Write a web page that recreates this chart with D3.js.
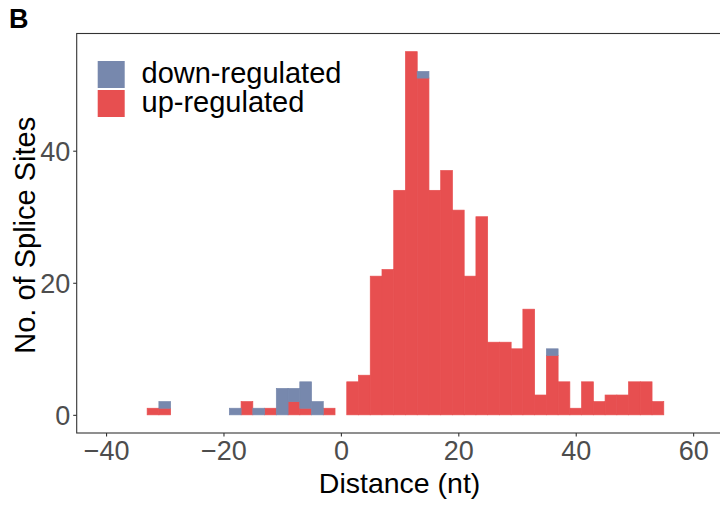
<!DOCTYPE html>
<html>
<head>
<meta charset="utf-8">
<script src="https://cdn.jsdelivr.net/npm/d3@7"></script>
<style>
  html, body { margin: 0; padding: 0; background: #fff; }
  svg { display: block; font-family: "Liberation Sans", Arial, Helvetica, sans-serif; }
</style>
</head>
<body>
<div id="chart"></div>
<script>
// ---- data (histogram, binwidth 2, bin centers) ----
const binCenters = [-32,-30,-28,-26,-24,-22,-20,-18,-16,-14,-12,-10,-8,-6,-4,-2,0,2,4,6,8,10,12,14,16,18,20,22,24,26,28,30,32,34,36,38,40,42,44,46,48,50,52,54];
const upRegulated = [1,1,0,0,0,0,0,0,2,0,1,0,2,1,0,1,0,5,6,21,22,34,55,51,34,37,31,21,30,11,11,10,16,3,9,5,1,5,2,3,3,5,5,2];
const downRegulated = [0,1,0,0,0,0,0,1,0,1,0,4,2,4,2,0,0,0,0,0,0,0,0,1,0,0,0,0,0,0,0,0,0,0,1,0,0,0,0,0,0,0,0,0];
const binWidth = 2;
const xTicks = [-40,-20,0,20,40,60];
const yTicks = [0,20,40];
const seriesNames = ["down-regulated","up-regulated"];
const seriesColors = {"down-regulated":"#7788AD","up-regulated":"#E74F50"};

const W = 720, H = 505;
const panel = {left: 76.7, right: 722.5, top: 33.5, bottom: 433};

const svg = d3.select("#chart").append("svg").attr("width", W).attr("height", H);

const x = d3.scaleLinear().domain([-45, 65]).range([panel.left, panel.right]);
const y = d3.scaleLinear().domain([-2.75, 57.75]).range([panel.bottom, panel.top]);

const rows = binCenters.map((c, i) => ({center: c, up: upRegulated[i], down: downRegulated[i]}));
const stack = d3.stack().keys(["up","down"]);
const layers = stack(rows);
const keyName = {up: "up-regulated", down: "down-regulated"};

svg.append("clipPath").attr("id","clip").append("rect")
  .attr("x", panel.left).attr("y", panel.top)
  .attr("width", panel.right - panel.left).attr("height", panel.bottom - panel.top);

const g = svg.append("g").attr("clip-path","url(#clip)");
layers.forEach(layer => {
  const col = seriesColors[keyName[layer.key]];
  g.append("g").attr("fill", col).attr("stroke", col).attr("stroke-width", 0.7)
    .selectAll("rect").data(layer.filter(d => d[1] - d[0] > 0)).join("rect")
    .attr("x", d => x(d.data.center - binWidth/2))
    .attr("width", d => x(d.data.center + binWidth/2) - x(d.data.center - binWidth/2))
    .attr("y", d => y(d[1]))
    .attr("height", d => y(d[0]) - y(d[1]));
});

// panel border
svg.append("rect")
  .attr("x", panel.left).attr("y", panel.top)
  .attr("width", panel.right - panel.left).attr("height", panel.bottom - panel.top)
  .attr("fill","none").attr("stroke","#333").attr("stroke-width",1.1);

// axes
const fmt = v => v < 0 ? "\u2212" + Math.abs(v) : String(v);
const xAxis = svg.append("g").attr("transform", `translate(0,${panel.bottom})`)
  .call(d3.axisBottom(x).tickValues(xTicks).tickFormat(fmt).tickSize(3.5).tickPadding(4));
const yAxis = svg.append("g").attr("transform", `translate(${panel.left},0)`)
  .call(d3.axisLeft(y).tickValues(yTicks).tickFormat(fmt).tickSize(3.5).tickPadding(3));
[xAxis, yAxis].forEach(a => {
  a.select(".domain").remove();
  a.selectAll(".tick line").attr("stroke","#333").attr("stroke-width",1.1);
  a.selectAll(".tick text").attr("fill","#4D4D4D").style("font-size","27px")
    .style("font-family","'Liberation Sans', Arial, sans-serif");
});
yAxis.selectAll(".tick text").attr("dy","0.36em");

// axis titles
svg.append("text").attr("x", (panel.left + panel.right)/2).attr("y", 493)
  .attr("text-anchor","middle").attr("fill","#000").style("font-size","28.5px")
  .text("Distance (nt)");
svg.append("text").attr("transform", `translate(35,${(panel.top+panel.bottom)/2 + 2}) rotate(-90)`)
  .attr("text-anchor","middle").attr("fill","#000").style("font-size","29px")
  .text("No. of Splice Sites");

// panel tag
svg.append("text").attr("x", 9).attr("y", 28).attr("fill","#000")
  .style("font-size","27px").style("font-weight","bold").text("B");

// legend
const leg = svg.append("g");
seriesNames.forEach((n, i) => {
  const yy = 61 + i * 29;
  leg.append("rect").attr("x", 97.7).attr("y", yy).attr("width", 27).attr("height", 27)
    .attr("fill", seriesColors[n]);
  leg.append("text").attr("x", 141.5).attr("y", yy + 22).attr("fill","#000")
    .style("font-size","29px").text(n);
});
</script>
</body>
</html>
